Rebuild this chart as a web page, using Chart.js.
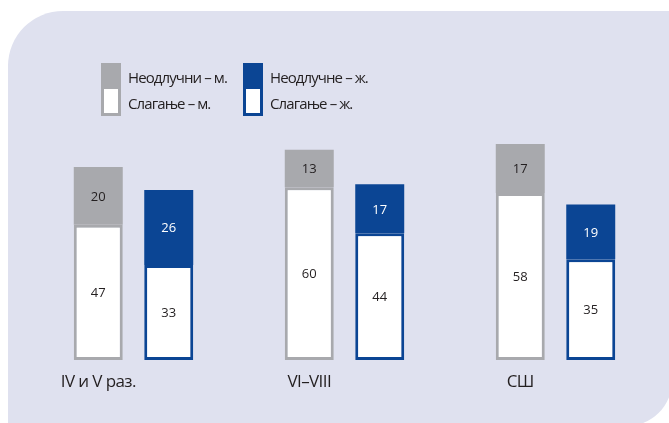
<!DOCTYPE html>
<html>
<head>
<meta charset="utf-8">
<script src="https://cdn.jsdelivr.net/npm/chart.js@4.4.0/dist/chart.umd.min.js"></script>
<style>
  html, body { margin: 0; padding: 0; background: #ffffff; overflow: hidden; }
  #wrap { position: relative; width: 669px; height: 423px; }
  #panel {
    position: absolute; left: 8px; top: 11px; width: 664px; height: 415px;
    background: #dfe1ef; border-radius: 55px 0 45px 0;
  }
  #chart { position: absolute; left: 0; top: 0; }
</style>
</head>
<body>
<div id="wrap">
  <div id="panel"></div>
  <canvas id="chart" width="669" height="423"></canvas>
</div>
<script>
// Categories and values (percent)
const categories = ['IV и V раз.', 'VI–VIII', 'СШ'];
const agreeMale = [47, 60, 58];
const undecidedMale = [20, 13, 17];
const agreeFemale = [33, 44, 35];
const undecidedFemale = [26, 17, 19];

const GREY = '#a8a9ad';
const BLUE = '#0b4594';
const TEXT = '#231f20';
const FONT = "'Open Sans', 'Noto Sans', sans-serif";

// Value labels in the middle of each segment
const valueLabels = {
  id: 'valueLabels',
  afterDatasetsDraw(chart) {
    const ctx = chart.ctx;
    ctx.save();
    ctx.font = '13px ' + FONT;
    ctx.textAlign = 'center';
    ctx.textBaseline = 'middle';
    chart.data.datasets.forEach((ds, i) => {
      const meta = chart.getDatasetMeta(i);
      meta.data.forEach((bar, j) => {
        const p = bar.getCenterPoint();
        ctx.fillStyle = ds.labelColor;
        ctx.fillText(String(ds.data[j]), p.x, p.y + 1);
      });
    });
    ctx.restore();
  }
};

// Category names under the male bar, and the two-part legend at the top
const extras = {
  id: 'extras',
  afterDraw(chart) {
    const ctx = chart.ctx;
    ctx.save();
    ctx.fillStyle = TEXT;
    ctx.font = '17px ' + FONT;
    ctx.letterSpacing = '-0.6px';
    ctx.textAlign = 'center';
    ctx.textBaseline = 'middle';
    const male = chart.getDatasetMeta(0);
    male.data.forEach((bar, j) => {
      ctx.fillText(categories[j], bar.x, 382);
    });

    // legend
    const groups = [
      { x: 101, color: GREY, top: chart.data.datasets[1].label, bottom: chart.data.datasets[0].label },
      { x: 243, color: BLUE, top: chart.data.datasets[3].label, bottom: chart.data.datasets[2].label }
    ];
    ctx.textAlign = 'left';
    ctx.font = '15px ' + FONT;
    ctx.letterSpacing = '-0.9px';
    groups.forEach(g => {
      ctx.fillStyle = g.color;
      ctx.fillRect(g.x, 63, 20, 53);
      ctx.fillStyle = '#ffffff';
      ctx.fillRect(g.x + 3, 89, 14, 24);
      ctx.fillStyle = TEXT;
      ctx.fillText(g.top, g.x + 27, 79);
      ctx.fillText(g.bottom, g.x + 27, 105);
    });
    ctx.restore();
  }
};

new Chart(document.getElementById('chart'), {
  type: 'bar',
  data: {
    labels: categories,
    datasets: [
      { label: 'Слагање – м.', data: agreeMale, stack: 'm', backgroundColor: '#ffffff', borderColor: GREY, borderWidth: 3, labelColor: TEXT },
      { label: 'Неодлучни – м.', data: undecidedMale, stack: 'm', backgroundColor: GREY, borderWidth: 0, labelColor: TEXT },
      { label: 'Слагање – ж.', data: agreeFemale, stack: 'f', backgroundColor: '#ffffff', borderColor: BLUE, borderWidth: 3, labelColor: TEXT },
      { label: 'Неодлучне – ж.', data: undecidedFemale, stack: 'f', backgroundColor: BLUE, borderWidth: 0, labelColor: '#ffffff' }
    ]
  },
  options: {
    responsive: false,
    animation: false,
    layout: { padding: { left: 28, right: 8, top: 72, bottom: 63 } },
    datasets: {
      bar: {
        categoryPercentage: 0.668,
        barPercentage: 0.695,
        borderSkipped: false
      }
    },
    scales: {
      x: { display: false, stacked: true },
      y: { display: false, stacked: true, min: 0, max: 100 }
    },
    plugins: {
      legend: { display: false },
      tooltip: { enabled: false }
    }
  },
  plugins: [valueLabels, extras]
});
</script>
</body>
</html>
